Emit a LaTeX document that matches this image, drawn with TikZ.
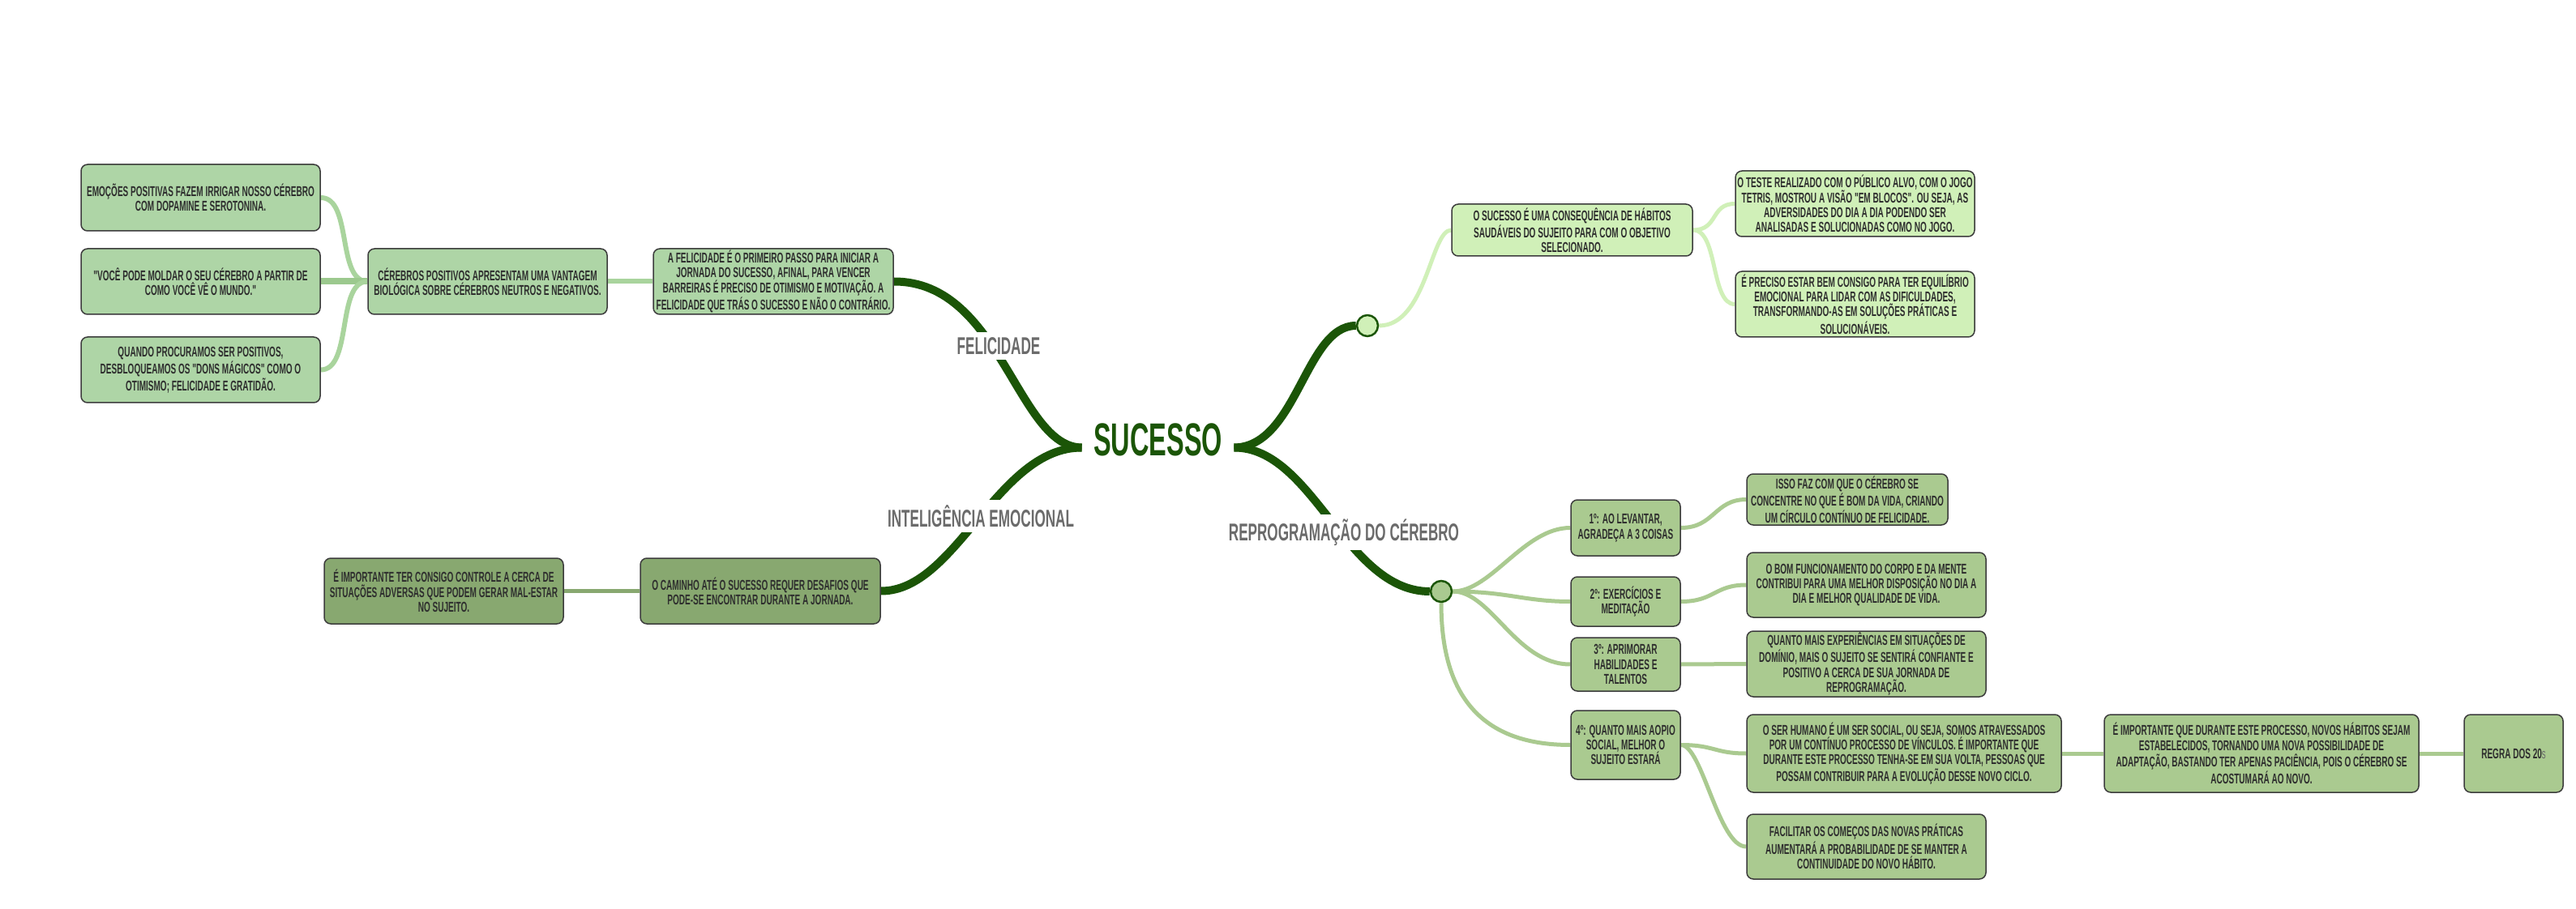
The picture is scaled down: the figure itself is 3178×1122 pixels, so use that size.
\documentclass[tikz,border=0pt]{standalone}
\usepackage{fontspec}
\newfontfamily\bn[FakeStretch=0.57]{Liberation Sans}
\pgfdeclarelayer{bg}
\pgfsetlayers{bg,main}
\definecolor{dkg}{HTML}{1B5507}
\definecolor{fillL}{HTML}{AED5A6}
\definecolor{lineL}{HTML}{A9D49D}
\definecolor{lineV}{HTML}{9CC98E}
\definecolor{fillR}{HTML}{AACA90}
\definecolor{fillT}{HTML}{D0F0B8}
\definecolor{fillD}{HTML}{88A870}
\definecolor{bordr}{HTML}{3C3C3C}
\definecolor{txt}{HTML}{2E2E2E}
\definecolor{lbl}{HTML}{6B6B6B}
\begin{document}
\begin{tikzpicture}[x=0.5pt,y=-0.5pt,
  box/.style={draw=bordr, line width=0.75pt, rounded corners=4pt, align=center,
    inner sep=0pt, text=txt, font=\bn\bfseries\fontsize{8.8}{9.2}\selectfont},
  wh/.style 2 args={minimum width={#1*0.5pt}, minimum height={#2*0.5pt}},
  boxL/.style={box, fill=fillL},
  boxR/.style={box, fill=fillR},
  boxT/.style={box, fill=fillT},
  boxD/.style={box, fill=fillD},
  lab/.style={fill=white, text=lbl, inner sep=3pt, font=\bn\bfseries\fontsize{15}{15}\selectfont},
  hub/.style={circle, draw=dkg, line width=1.25pt, minimum size=13pt, inner sep=0pt},
  brdk/.style={draw=dkg, line width=5pt},
  lnL/.style={draw=lineL, line width=3pt},
  lnV/.style={draw=lineV, line width=4pt},
  lnR/.style={draw=fillR, line width=2.5pt},
  lnT/.style={draw=fillT, line width=2.5pt},
  lnD/.style={draw=fillD, line width=2.5pt}]
\begin{pgfonlayer}{bg}
\fill[white] (0,0) rectangle (3178,1122);
\end{pgfonlayer}
\useasboundingbox (0,0) rectangle (3178,1122);

% centre
\node[text=dkg, font=\bn\bfseries\fontsize{28.5}{28.5}\selectfont, minimum width=93.5pt, inner sep=0pt] (suc) at (1428.5,543) {SUCESSO};

% left: felicidade
\node[boxL, wh={295}{82}] (emo) at (247.5,244) {EMOÇÕES POSITIVAS FAZEM IRRIGAR NOSSO CÉREBRO\\COM DOPAMINE E SEROTONINA.};
\node[boxL, wh={295}{81}] (voce) at (247.5,347.5) {"VOCÊ PODE MOLDAR O SEU CÉREBRO A PARTIR DE\\COMO VOCÊ VÊ O MUNDO."};
\node[boxL, wh={295}{81}] (quando) at (247.5,456.5) {QUANDO PROCURAMOS SER POSITIVOS,\\DESBLOQUEAMOS OS "DONS MÁGICOS" COMO O\\OTIMISMO; FELICIDADE E GRATIDÃO.};
\node[boxL, wh={295}{81}] (cerebros) at (601.5,347.5) {CÉREBROS POSITIVOS APRESENTAM UMA VANTAGEM\\BIOLÓGICA SOBRE CÉREBROS NEUTROS E NEGATIVOS.};
\node[boxL, wh={296}{81}] (felbox) at (954,347.5) {A FELICIDADE É O PRIMEIRO PASSO PARA INICIAR A\\JORNADA DO SUCESSO, AFINAL, PARA VENCER\\BARREIRAS É PRECISO DE OTIMISMO E MOTIVAÇÃO. A\\FELICIDADE QUE TRÁS O SUCESSO E NÃO O CONTRÁRIO.};

% left: inteligencia emocional
\node[boxD, wh={295}{81}] (imp) at (547.5,729.5) {É IMPORTANTE TER CONSIGO CONTROLE A CERCA DE\\SITUAÇÕES ADVERSAS QUE PODEM GERAR MAL-ESTAR\\NO SUJEITO.};
\node[boxD, wh={296}{81}] (caminho) at (938,729.5) {O CAMINHO ATÉ O SUCESSO REQUER DESAFIOS QUE\\PODE-SE ENCONTRAR DURANTE A JORNADA.};

% right top
\node[hub, fill=fillT] (c1) at (1687,402) {};
\node[boxT, wh={297}{64}] (suc2) at (1939.5,284) {O SUCESSO É UMA CONSEQUÊNCIA DE HÁBITOS\\SAUDÁVEIS DO SUJEITO PARA COM O OBJETIVO\\SELECIONADO.};
\node[boxT, wh={295}{81}] (teste) at (2288.5,251.5) {O TESTE REALIZADO COM O PÚBLICO ALVO, COM O JOGO\\TETRIS, MOSTROU A VISÃO "EM BLOCOS". OU SEJA, AS\\ADVERSIDADES DO DIA A DIA PODENDO SER\\ANALISADAS E SOLUCIONADAS COMO NO JOGO.};
\node[boxT, wh={295}{81}] (preciso) at (2288.5,375.5) {É PRECISO ESTAR BEM CONSIGO PARA TER EQUILÍBRIO\\EMOCIONAL PARA LIDAR COM AS DIFICULDADES,\\TRANSFORMANDO-AS EM SOLUÇÕES PRÁTICAS E\\SOLUCIONÁVEIS.};

% right bottom: reprogramacao
\node[hub, fill=fillR] (c2) at (1778,730) {};
\node[boxR, wh={135}{69}] (p1) at (2005.5,651.5) {1º: AO LEVANTAR,\\AGRADEÇA A 3 COISAS};
\node[boxR, wh={248}{63}] (isso) at (2279,616.5) {ISSO FAZ COM QUE O CÉREBRO SE\\CONCENTRE NO QUE É BOM DA VIDA, CRIANDO\\UM CÍRCULO CONTÍNUO DE FELICIDADE.};
\node[boxR, wh={135}{61}] (p2) at (2005.5,742.5) {2º: EXERCÍCIOS E\\MEDITAÇÃO};
\node[boxR, wh={295}{80}] (bom) at (2302.5,722) {O BOM FUNCIONAMENTO DO CORPO E DA MENTE\\CONTRIBUI PARA UMA MELHOR DISPOSIÇÃO NO DIA A\\DIA E MELHOR QUALIDADE DE VIDA.};
\node[boxR, wh={135}{66}] (p3) at (2005.5,820) {3º: APRIMORAR\\HABILIDADES E\\TALENTOS};
\node[boxR, wh={295}{81}] (quanto) at (2302.5,819.5) {QUANTO MAIS EXPERIÊNCIAS EM SITUAÇÕES DE\\DOMÍNIO, MAIS O SUJEITO SE SENTIRÁ CONFIANTE E\\POSITIVO A CERCA DE SUA JORNADA DE\\REPROGRAMAÇÃO.};
\node[boxR, wh={135}{85}] (p4) at (2005.5,919.5) {4º: QUANTO MAIS AOPIO\\SOCIAL, MELHOR O\\SUJEITO ESTARÁ};
\node[boxR, wh={388}{96}] (ser) at (2349,930) {O SER HUMANO É UM SER SOCIAL, OU SEJA, SOMOS ATRAVESSADOS\\POR UM CONTÍNUO PROCESSO DE VÍNCULOS. É IMPORTANTE QUE\\DURANTE ESTE PROCESSO TENHA-SE EM SUA VOLTA, PESSOAS QUE\\POSSAM CONTRIBUIR PARA A EVOLUÇÃO DESSE NOVO CICLO.};
\node[boxR, wh={388}{96}] (impq) at (2790,930) {É IMPORTANTE QUE DURANTE ESTE PROCESSO, NOVOS HÁBITOS SEJAM\\ESTABELECIDOS, TORNANDO UMA NOVA POSSIBILIDADE DE\\ADAPTAÇÃO, BASTANDO TER APENAS PACIÊNCIA, POIS O CÉREBRO SE\\ACOSTUMARÁ AO NOVO.};
\node[boxR, wh={122}{96}] (regra) at (3101,930) {REGRA DOS 20{\mdseries\color{lbl}\fontsize{8.5}{9}\selectfont s}};
\node[boxR, wh={295}{80}] (facil) at (2302.5,1045) {FACILITAR OS COMEÇOS DAS NOVAS PRÁTICAS\\AUMENTARÁ A PROBABILIDADE DE SE MANTER A\\CONTINUIDADE DO NOVO HÁBITO.};

% branch labels
\node[lab] (lfel) at (1232,427) {FELICIDADE};
\node[lab] (lint) at (1210,637) {INTELIGÊNCIA EMOCIONAL};
\node[lab] (lrep) at (1658,657) {REPROGRAMAÇÃO DO CÉREBRO};

\begin{pgfonlayer}{bg}
% main branches
\draw[brdk] ([yshift=-4.75pt]suc.west) .. controls (1255,552) and (1235,347) .. (felbox.east);
\draw[brdk] ([yshift=-4.75pt]suc.west) .. controls (1230,552) and (1180,730) .. (caminho.east);
\draw[brdk] ([yshift=-4.75pt]suc.east) .. controls (1600,552) and (1610,402) .. (c1.west);
\draw[brdk] ([yshift=-4.75pt]suc.east) .. controls (1620,552) and (1660,730) .. (c2.west);
% felicidade group
\draw[lnL] (cerebros.east) -- (felbox.west);
\draw[lnL] (emo.east) .. controls (435,244) and (415,347) .. (cerebros.west);
\draw[lnV] (voce.east) -- (cerebros.west);
\draw[lnL] (quando.east) .. controls (435,456.5) and (415,347) .. (cerebros.west);
% inteligencia group
\draw[lnD] (imp.east) -- (caminho.west);
% top right group
\draw[lnT] (c1.east) .. controls (1760,402) and (1765,284) .. (suc2.west);
\draw[lnT] (suc2.east) .. controls (2120,284) and (2110,251.5) .. (teste.west);
\draw[lnT] (suc2.east) .. controls (2120,284) and (2110,375.5) .. (preciso.west);
% reprogramacao group
\draw[lnR] (c2.east) .. controls (1840,730) and (1880,651.5) .. (p1.west);
\draw[lnR] (c2.east) .. controls (1860,730) and (1880,742.5) .. (p2.west);
\draw[lnR] (c2.east) .. controls (1840,730) and (1870,820) .. (p3.west);
\draw[lnR] (c2.south) .. controls (1778,850) and (1820,919.5) .. (p4.west);
\draw[lnR] (p1.east) .. controls (2115,651.5) and (2115,616.5) .. (isso.west);
\draw[lnR] (p2.east) .. controls (2115,742.5) and (2115,722) .. (bom.west);
\draw[lnR] (p3.east) -- (quanto.west);
\draw[lnR] (p4.east) .. controls (2115,919.5) and (2115,930) .. (ser.west);
\draw[lnR] (p4.east) .. controls (2100,919.5) and (2120,1045) .. (facil.west);
\draw[lnR] (ser.east) -- (impq.west);
\draw[lnR] (impq.east) -- (regra.west);
\end{pgfonlayer}
\end{tikzpicture}
\end{document}
